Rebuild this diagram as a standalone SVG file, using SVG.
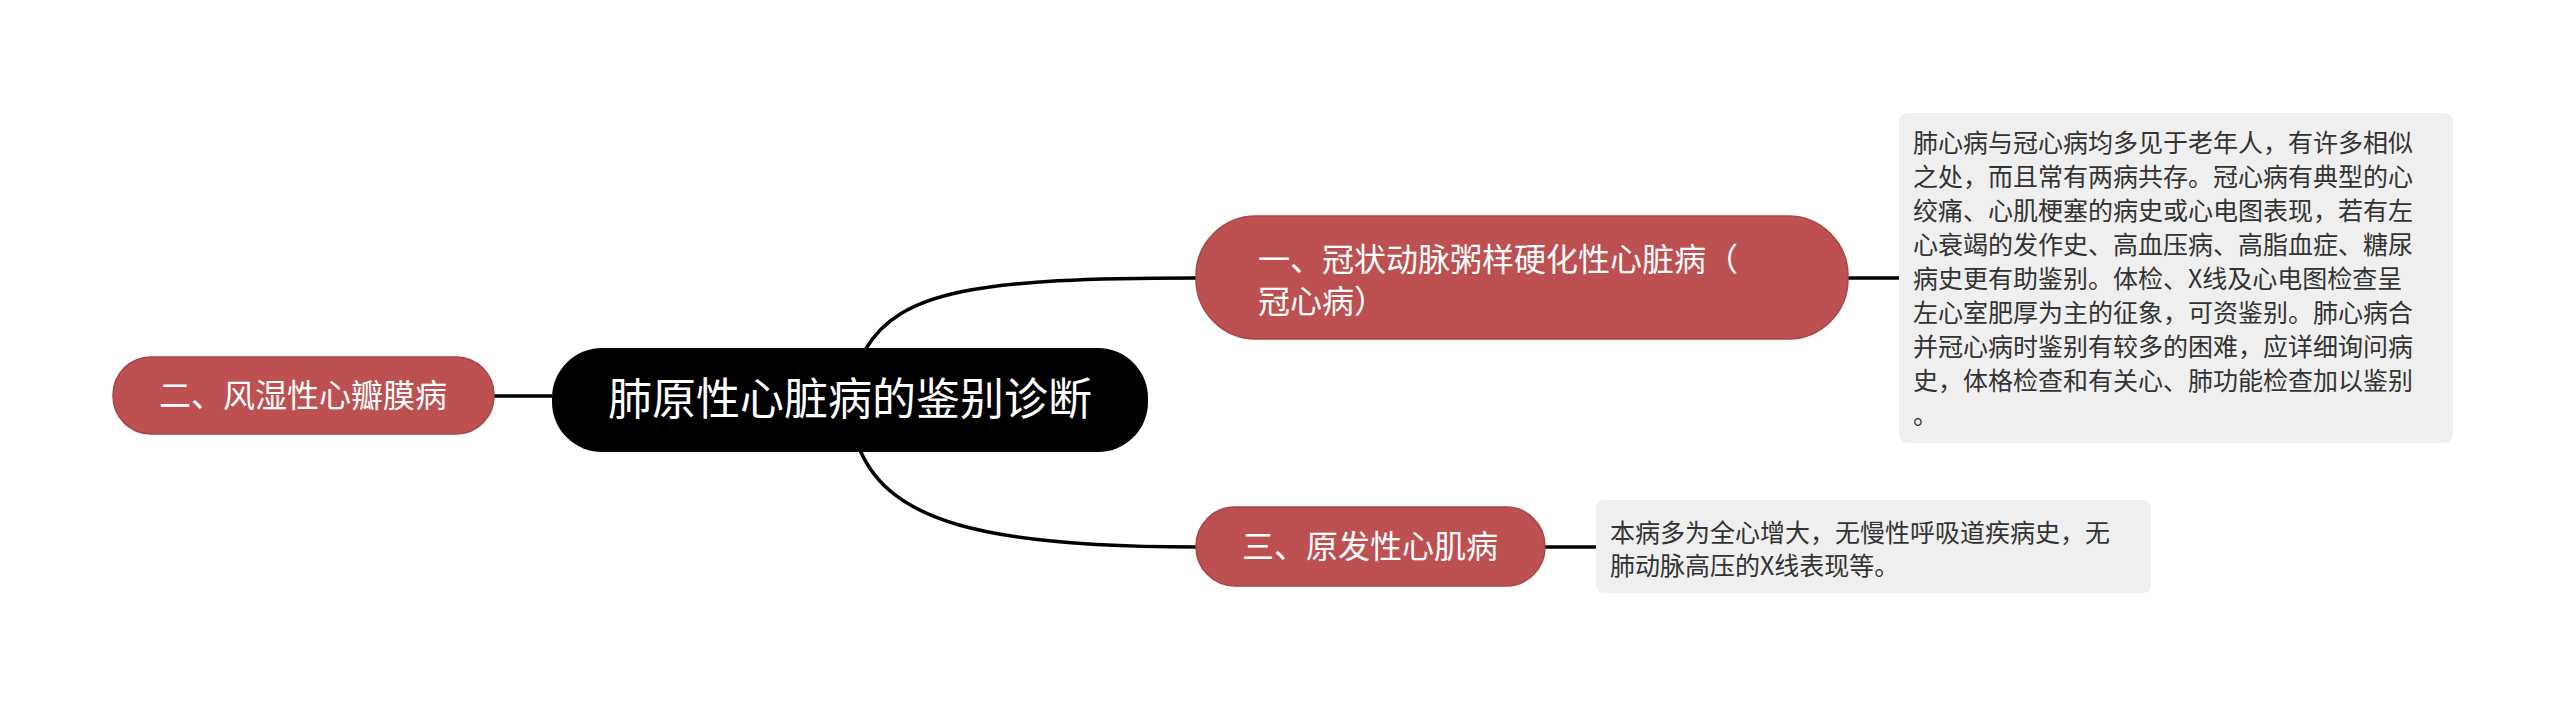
<svg xmlns="http://www.w3.org/2000/svg" width="2560" height="707" viewBox="0 0 2560 707">
<style>
.b{fill:#bd5050;stroke:#a84545;stroke-width:1.5}
.bt{fill:#fff;font-family:"Noto Sans CJK SC",sans-serif;font-size:32px}
.nt{fill:#333;font-family:"Noto Sans CJK SC",sans-serif;font-size:25px}
.n{fill:#efefef}
.c{fill:none;stroke:#000;stroke-width:3.5}
</style>
<rect width="2560" height="707" fill="#fff"/>
<g id="connectors">
<path class="c" d="M494 396H552"/>
<path class="c" d="M865 350C900 290 980 278 1196 278"/>
<path class="c" d="M860 450C890 520 980 547 1196 547"/>
<path class="c" d="M1848 278H1899"/>
<path class="c" d="M1545 547H1596"/>
</g>
<g id="root"><rect x="552" y="348" width="596" height="104" rx="50" fill="#000"/>
<text x="850" y="415" text-anchor="middle" fill="#fff" font-family="Noto Sans CJK SC,sans-serif" font-size="44">肺原性心脏病的鉴别诊断</text></g>
<g id="n2"><rect class="b" x="113" y="357" width="381" height="77" rx="38"/>
<text class="bt" x="303" y="407" text-anchor="middle">二、风湿性心瓣膜病</text></g>
<g id="n1"><rect class="b" x="1196" y="216" width="652" height="123" rx="60"/>
<text class="bt"><tspan x="1258" y="271">一、冠状动脉粥样硬化性心脏病（</tspan><tspan x="1258" y="313">冠心病）</tspan></text></g>
<g id="n3"><rect class="b" x="1196" y="507" width="349" height="79" rx="39"/>
<text class="bt" x="1370" y="558" text-anchor="middle">三、原发性心肌病</text></g>
<g id="note1"><rect class="n" x="1899" y="113" width="554" height="330" rx="8"/>
<text class="nt"><tspan x="1913" y="152">肺心病与冠心病均多见于老年人，有许多相似</tspan><tspan x="1913" y="186">之处，而且常有两病共存。冠心病有典型的心</tspan><tspan x="1913" y="220">绞痛、心肌梗塞的病史或心电图表现，若有左</tspan><tspan x="1913" y="254">心衰竭的发作史、高血压病、高脂血症、糖尿</tspan><tspan x="1913" y="288">病史更有助鉴别。体检、X线及心电图检查呈</tspan><tspan x="1913" y="322">左心室肥厚为主的征象，可资鉴别。肺心病合</tspan><tspan x="1913" y="356">并冠心病时鉴别有较多的困难，应详细询问病</tspan><tspan x="1913" y="390">史，体格检查和有关心、肺功能检查加以鉴别</tspan><tspan x="1913" y="424">。</tspan></text></g>
<g id="note2"><rect class="n" x="1596" y="500" width="555" height="93" rx="8"/>
<text class="nt"><tspan x="1610" y="542">本病多为全心增大，无慢性呼吸道疾病史，无</tspan><tspan x="1610" y="575">肺动脉高压的X线表现等。</tspan></text></g>
</svg>
